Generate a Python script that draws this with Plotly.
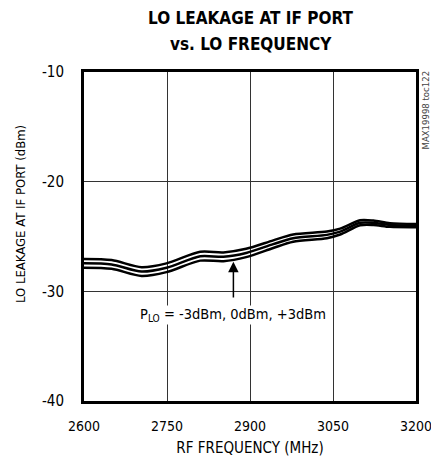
import plotly.graph_objects as go

# RF frequency (MHz) and LO leakage (dBm)
freq = [2600, 2650, 2704, 2749, 2810, 2852, 2893, 2942, 2978, 3039, 3063, 3099, 3123, 3153, 3200]
leak_0dbm = [-27.45, -27.55, -28.2, -27.85, -26.8, -26.85, -26.5, -25.7, -25.15, -24.85, -24.55, -23.75, -23.75, -23.95, -24.0]
leak_m3dbm = [-27.05, -27.15, -27.8, -27.45, -26.4, -26.45, -26.12, -25.35, -24.82, -24.55, -24.28, -23.52, -23.55, -23.78, -23.85]
leak_p3dbm = [-27.85, -27.95, -28.6, -28.25, -27.2, -27.25, -26.88, -26.05, -25.48, -25.15, -24.82, -23.98, -23.95, -24.12, -24.15]

x_ticks = [2600, 2750, 2900, 3050, 3200]
y_ticks = [-40, -30, -20, -10]
y_labels = ["-40", "-30", "-20", "-10"]

font = "DejaVu Sans Condensed, Liberation Sans Narrow, Arial Narrow, sans-serif"

fig = go.Figure()
for name, vals in [("-3dBm", leak_m3dbm), ("0dBm", leak_0dbm), ("+3dBm", leak_p3dbm)]:
    fig.add_trace(go.Scatter(x=freq, y=vals, mode="lines", name=name,
                             line=dict(color="black", width=2.5, shape="spline", smoothing=0.8)))

# arrow from the label up to the curves
fig.add_annotation(x=2870, y=-27.3, ax=2870, ay=-30.7, xref="x", yref="y",
                   axref="x", ayref="y", text="", showarrow=True,
                   arrowhead=2, arrowsize=1.4, arrowwidth=1.5, arrowcolor="black",
                   standoff=0, startstandoff=0)
fig.add_annotation(x=2870, y=-32.2, xref="x", yref="y",
                   text="P<sub>LO</sub> = -3dBm, 0dBm, +3dBm", showarrow=False,
                   font=dict(family=font, size=14.5, color="black"),
                   bgcolor="white", borderpad=0)
fig.add_annotation(x=1.028, y=0.884, xref="paper", yref="paper",
                   xanchor="center", yanchor="middle",
                   text="MAX19998 toc122", textangle=-90, showarrow=False,
                   font=dict(family=font, size=9.5, color="#444"))

# title lines and y title placed by hand
fig.add_annotation(x=0.503, y=1.164, xref="paper", yref="paper", showarrow=False,
                   xanchor="center", yanchor="middle",
                   text="<b>LO LEAKAGE AT IF PORT</b>",
                   font=dict(family=font, size=17, color="black"))
fig.add_annotation(x=0.503, y=1.085, xref="paper", yref="paper", showarrow=False,
                   xanchor="center", yanchor="middle",
                   text="<b>vs. LO FREQUENCY</b>",
                   font=dict(family=font, size=17, color="black"))
fig.add_annotation(x=-0.193, y=0.568, xref="paper", yref="paper", showarrow=False,
                   xanchor="center", yanchor="middle",
                   text="LO LEAKAGE AT IF PORT (dBm)", textangle=-90,
                   font=dict(family=font, size=13, color="black"))

fig.update_layout(
    width=431, height=464,
    margin=dict(l=84, r=15, t=72, b=63, autoexpand=False),
    paper_bgcolor="white", plot_bgcolor="white",
    showlegend=False,
    font=dict(family=font, size=15, color="black"),
)
fig.update_xaxes(range=[2600, 3200], tickvals=x_ticks, ticks="", showgrid=True,
                 gridcolor="#333", gridwidth=1, showline=True, linecolor="black",
                 linewidth=3, mirror=True, zeroline=False, ticklabelstandoff=10,
                 ticklabeloverflow="allow", tickfont=dict(size=14),
                 title=dict(text="RF FREQUENCY (MHz)", standoff=10, font=dict(size=15)))
fig.update_yaxes(range=[-40, -10], tickvals=y_ticks, ticktext=y_labels, ticks="", showgrid=True,
                 gridcolor="#333", gridwidth=1, showline=True, linecolor="black",
                 linewidth=3, mirror=True, zeroline=False, ticklabelstandoff=14)

# drop the page's default body margin so the figure fills the window
fig.write_html("out.html", config={"displayModeBar": False},
               post_script="document.body.style.margin='0';")
